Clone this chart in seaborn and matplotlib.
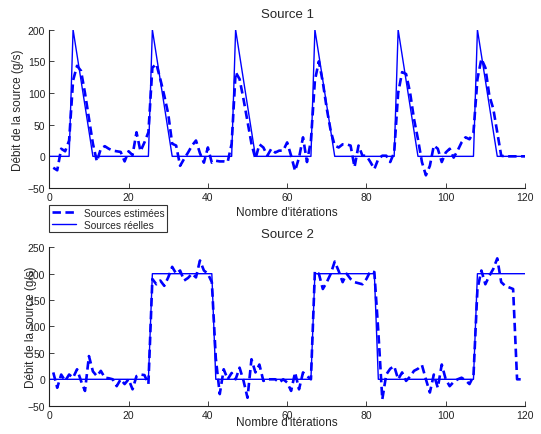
import numpy as np
import pandas as pd
import matplotlib
matplotlib.use("Agg")
import matplotlib.pyplot as plt
import seaborn as sns
from matplotlib.lines import Line2D

# ---------------- data ----------------
t_true = list(range(0, 121))
t_est = list(range(1, 121))

src1_peaks = [6, 26, 47, 67, 88, 108]
src1_true = []
for t in t_true:
    v = 0.0
    for p in src1_peaks:
        if p <= t <= p + 5:
            v = 200 - 40 * (t - p)
    src1_true.append(v)

src1_est = [-18, -22, 12, 8, 25, 120, 143, 135, 100, 60,
            20, -8, 12, 16, 12, 9, 8, 7, -8, 8,
            2, 38, 8, 22, 38, 140, 146, 122, 96, 67,
            20, 17, -15, -4, 6, 17, 25, 5, -10, 14,
            -10, -7, -8, -8, -9, 20, 133, 122, 90, 55,
            20, -4, 19, 14, 1, 12, 6, 9, 9, 22,
            1, -23, -2, 30, -9, 25, 120, 150, 117, 75,
            40, 17, 14, 19, 19, 17, -17, 17, 1, 1,
            -9, -20, -4, 1, 1, -9, 6, 100, 133, 130,
            101, 59, 27, -9, -30, -15, 17, 12, -9, 6,
            12, -2, 9, 22, 30, 27, 38, 122, 154, 140,
            96, 75, 38, 1, 0, 0, 0, 0, 0, 0]

src2_on = [(26, 41), (67, 82), (108, 120)]
src2_true = []
for t in t_true:
    v = 0.0
    for a, b in src2_on:
        if a <= t <= b:
            v = 200.0
    src2_true.append(v)

src2_est = [13, -16, 9, -3, 9, 3, 19, -3, -22, 44,
            15, 6, 16, 3, 2, 0, -13, 0, -9, 0,
            -19, 6, 9, 8, -9, 190, 180, 187, 177, 193,
            213, 200, 206, 187, 192, 200, 193, 225, 206, 200,
            184, 40, -28, 19, 0, 12, 0, 22, -3, -35,
            38, 13, 28, -3, 0, 0, 0, -6, 0, -6,
            -22, 13, -19, 13, 6, 0, 205, 200, 171, 184,
            200, 223, 205, 184, 200, 190, 184, 182, 180, 190,
            205, 203, 90, -38, 9, 20, 25, 0, 13, -3,
            5, 16, 20, 27, 0, -25, 9, -16, 28, 0,
            -13, -5, 0, 3, -2, -9, 6, 171, 206, 180,
            196, 209, 229, 184, 177, 174, 171, 0, 0, 0]

titles = ["Source 1", "Source 2"]
ylims = [(-50, 200), (-50, 250)]
yticks = [[-50, 0, 50, 100, 150, 200], [-50, 0, 50, 100, 150, 200, 250]]
xticks = [0, 20, 40, 60, 80, 100, 120]
xlabel = "Nombre d'itérations"
ylabel = "Débit de la source (g/s)"
legend_labels = ["Sources estimées", "Sources réelles"]

# ---------------- style ----------------
sns.set_style("ticks")
plt.rcParams["font.family"] = ["Liberation Sans", "DejaVu Sans"]

W, H = 541, 435
fig = plt.figure(figsize=(W / 100, H / 100), dpi=100)

def fr(x0, y0, x1, y1):
    return [x0 / W, 1 - y1 / H, (x1 - x0) / W, (y1 - y0) / H]

ax1 = fig.add_axes(fr(49.3, 30.7, 525, 189))
ax2 = fig.add_axes(fr(49.3, 248.3, 525, 406.7))

blue = "#0000ff"
series = [(src1_true, src1_est), (src2_true, src2_est)]
ylab_x = [-0.0658, -0.0385]
xlab_y = [-0.152, -0.103]
title_y = [1.099, 1.084]

for i, ax in enumerate([ax1, ax2]):
    tr, es = series[i]
    df_t = pd.DataFrame({"t": t_true, "v": tr})
    df_e = pd.DataFrame({"t": t_est, "v": es})
    sns.lineplot(data=df_e, x="t", y="v", ax=ax, color=blue, lw=1.9,
                 dashes=False, linestyle=(0, (3.2, 1.7)))
    sns.lineplot(data=df_t, x="t", y="v", ax=ax, color=blue, lw=1.0)
    ax.set_xlim(0, 120)
    ax.set_ylim(*ylims[i])
    ax.set_xticks(xticks)
    ax.set_yticks(yticks[i])
    ax.tick_params(direction="in", length=3.5, width=0.6, labelsize=7.5,
                   colors="#222222", pad=3)
    for s in ["top", "right"]:
        ax.spines[s].set_visible(False)
    for s in ["left", "bottom"]:
        ax.spines[s].set_linewidth(0.8)
        ax.spines[s].set_color("#222222")
    ax.set_xlabel(xlabel, fontsize=8.5, va="center")
    ax.xaxis.set_label_coords(0.5, xlab_y[i])
    ax.set_ylabel(ylabel, fontsize=8.5, va="center")
    ax.yaxis.set_label_coords(ylab_x[i], 0.5)
    ax.set_title(titles[i], fontsize=9.5, y=title_y[i], va="center", pad=0)
    ax.set_facecolor("none")

handles = [Line2D([], [], color=blue, lw=1.9, linestyle=(0, (3.2, 1.7))),
           Line2D([], [], color=blue, lw=1.0)]
leg = fig.legend(handles, legend_labels, loc="upper left",
                 bbox_to_anchor=(49 / W, 1 - 206 / H), fontsize=7.3,
                 frameon=True, fancybox=False, handlelength=2.4,
                 borderpad=0.25, labelspacing=0.2, handletextpad=0.8,
                 borderaxespad=0)
leg.get_frame().set_edgecolor("black")
leg.get_frame().set_linewidth(0.8)

fig.savefig("out.png", dpi=100)
